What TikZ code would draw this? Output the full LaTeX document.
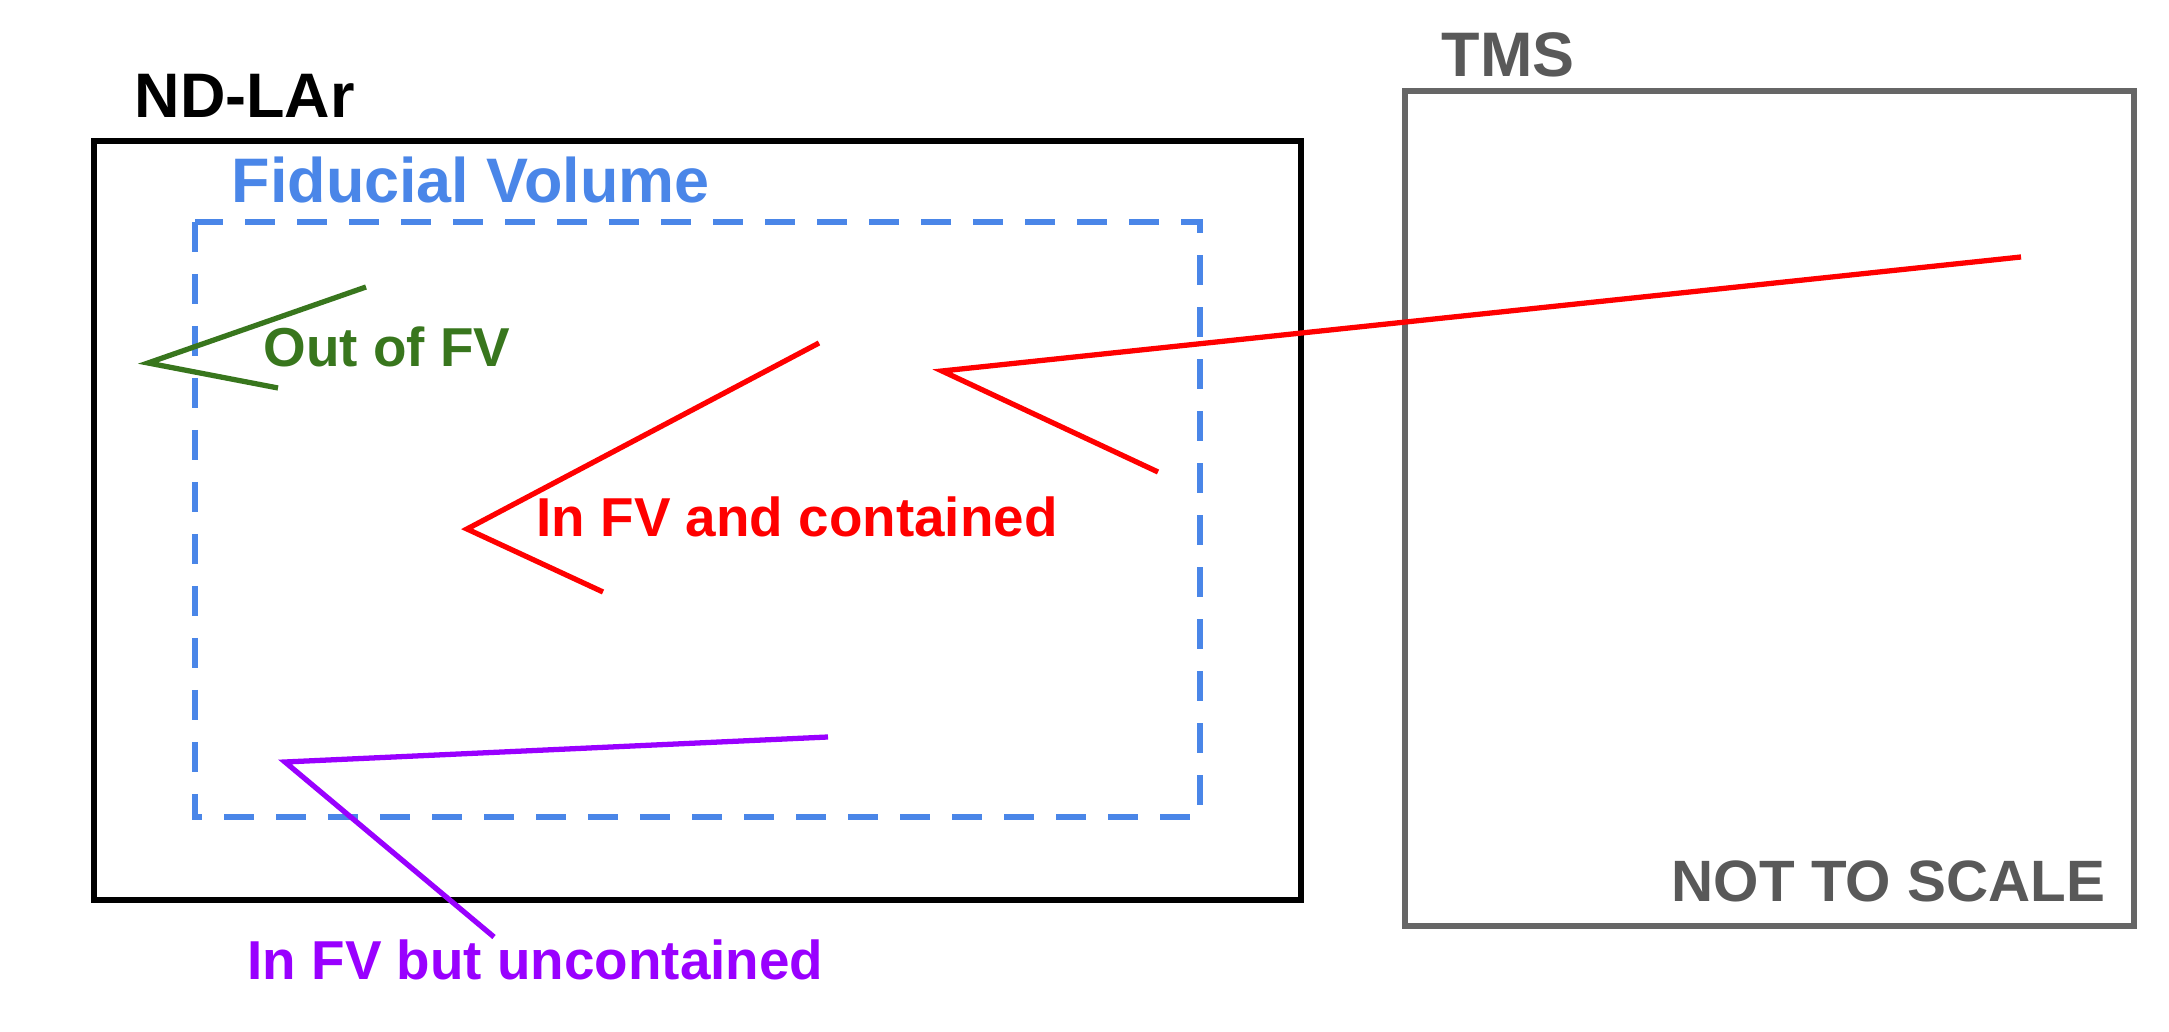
\documentclass[tikz,border=0pt]{standalone}
\usepackage{fontspec}
\setmainfont{Liberation Sans}
\usepackage{tikz}
\usetikzlibrary{positioning}

\definecolor{fvblue}{HTML}{4A86E8}
\definecolor{trkgreen}{HTML}{38761D}
\definecolor{trkred}{HTML}{FF0000}
\definecolor{trkpurple}{HTML}{9900FF}
\definecolor{tmsgray}{HTML}{666666}
\definecolor{notegray}{HTML}{595959}

\begin{document}
\begin{tikzpicture}[
  det box/.style={line width=1.6pt},
  fv box/.style={draw=fvblue, line width=1.8pt, dash pattern=on 0.30cm off 0.22cm},
  track/.style={line width=1.5pt, line join=miter},
  big label/.style={anchor=base west, inner sep=0pt, font=\bfseries\fontsize{17.9}{20}\selectfont},
  trk label/.style={anchor=base west, inner sep=0pt, font=\bfseries\fontsize{15.6}{18}\selectfont}
]
  \useasboundingbox (0,0) rectangle (21.69,10.31);

  % ND-LAr
  \draw[det box] (0.94,1.31) rectangle (13.01,8.90);
  \node[big label] (ndlar title) at (1.34,9.13) {ND-LAr};

  % fiducial volume
  \draw[fv box] (1.95,8.09) rectangle (12.00,2.14);
  \node[big label, text=fvblue] (fv title) at (2.31,8.28) {Fiducial Volume};

  % TMS
  \draw[det box, draw=tmsgray] (14.05,1.05) rectangle (21.34,9.40);
  \node[big label, text=notegray] (tms title) at (14.41,9.54) {TMS};
  \node[big label, text=notegray, font=\bfseries\fontsize{16.6}{19}\selectfont] (scale note) at (16.71,1.29) {NOT TO SCALE};

  % out of FV
  \draw[track, trkgreen] (3.66,7.44) -- (1.48,6.68) -- (2.78,6.43);
  \node[trk label, text=trkgreen] (out fv) at (2.63,6.64) {Out of FV};

  % in FV and contained
  \draw[track, trkred] (8.19,6.88) -- (4.67,5.02) -- (6.03,4.39);
  \draw[track, trkred] (20.21,7.74) -- (9.42,6.60) -- (11.58,5.59);
  \node[trk label, text=trkred] (in fv cont) at (5.36,4.94) {In FV and contained};

  % in FV but uncontained
  \draw[track, trkpurple] (8.28,2.94) -- (2.85,2.69) -- (4.94,0.94);
  \node[trk label, text=trkpurple] (in fv uncont) at (2.47,0.51) {In FV but uncontained};
\end{tikzpicture}
\end{document}
